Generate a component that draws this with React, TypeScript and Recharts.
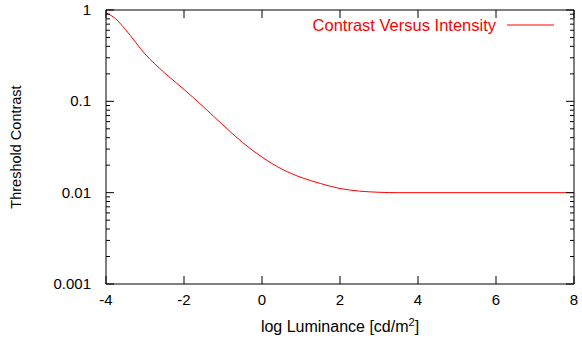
import React from "react";
import { LineChart, Line, XAxis, YAxis } from "recharts";

// log luminance (x) vs threshold contrast (y)
const logLuminance = [-4, -3.75, -3.5, -3, -2.5, -2, -1.5, -1, -0.5, 0, 0.5, 1, 1.5, 2, 2.5, 3, 3.5, 4, 5, 6, 7, 8];
const thresholdContrast = [
  0.93, 0.8, 0.61, 0.33, 0.205, 0.135, 0.087, 0.055, 0.0355, 0.0245, 0.0182, 0.0147, 0.0126, 0.0111, 0.0104, 0.0101,
  0.01, 0.01, 0.01, 0.01, 0.01, 0.01,
];

const xTicks = [-4, -2, 0, 2, 4, 6, 8];
const yMajorTicks = [0.001, 0.01, 0.1, 1];
const yMinorTicks = [
  0.002, 0.003, 0.004, 0.005, 0.006, 0.007, 0.008, 0.009,
  0.02, 0.03, 0.04, 0.05, 0.06, 0.07, 0.08, 0.09,
  0.2, 0.3, 0.4, 0.5, 0.6, 0.7, 0.8, 0.9,
];

const seriesName = "Contrast Versus Intensity";

const data = logLuminance.map((x, i) => ({ x, y: thresholdContrast[i] }));
const yAllTicks = [...yMajorTicks, ...yMinorTicks].sort((a, b) => a - b);

const FONT = '"Liberation Sans", Arial, Helvetica, sans-serif';
const MAJOR = 8;
const MINOR = 4;

const isMajor = (v: number) => yMajorTicks.includes(v);

const LeftTick = (props: any) => {
  const { x, y, payload } = props;
  const major = isMajor(payload.value);
  return (
    <g>
      <line x1={x} x2={x + (major ? MAJOR : MINOR)} y1={y} y2={y} stroke="#000" />
      {major && (
        <text x={x - 15} y={y + 5} textAnchor="end" fontSize={15} fontFamily={FONT} fill="#000">
          {payload.value}
        </text>
      )}
    </g>
  );
};

const RightTick = (props: any) => {
  const { x, y, payload } = props;
  const major = isMajor(payload.value);
  return <line x1={x - (major ? MAJOR : MINOR)} x2={x} y1={y} y2={y} stroke="#000" />;
};

const BottomTick = (props: any) => {
  const { x, y, payload } = props;
  return (
    <g>
      <line x1={x} x2={x} y1={y} y2={y - MAJOR} stroke="#000" />
      <text x={x} y={y + 21} textAnchor="middle" fontSize={15} fontFamily={FONT} fill="#000">
        {payload.value}
      </text>
    </g>
  );
};

const TopTick = (props: any) => {
  const { x, y } = props;
  return <line x1={x} x2={x} y1={y} y2={y + MAJOR} stroke="#000" />;
};

export default function App() {
  return (
    <div style={{ position: "absolute", left: 0, top: 0, width: 582, height: 345, background: "#fff" }}>
      <LineChart width={582} height={345} data={data} margin={{ top: 0, right: 0, bottom: 0, left: 0 }}>
        <XAxis
          dataKey="x"
          type="number"
          domain={[-4, 8]}
          allowDataOverflow
          ticks={xTicks}
          interval={0}
          height={61}
          tickSize={0}
          tickMargin={0}
          tickLine={false}
          axisLine={{ stroke: "#000" }}
          tick={<BottomTick />}
          label={{
            content: ({ viewBox }: any) => (
              <text
                x={viewBox.x + viewBox.width / 2}
                y={viewBox.y + 48}
                textAnchor="middle"
                fontSize={16}
                fontFamily={FONT}
                fill="#000"
              >
                log Luminance [cd/m
                <tspan dy={-6} fontSize={11}>2</tspan>
                <tspan dy={6}>]</tspan>
              </text>
            ),
          }}
        />
        <XAxis
          xAxisId="t"
          orientation="top"
          dataKey="x"
          type="number"
          domain={[-4, 8]}
          allowDataOverflow
          ticks={xTicks}
          interval={0}
          height={10}
          tickSize={0}
          tickMargin={0}
          tickLine={false}
          axisLine={{ stroke: "#000" }}
          tick={<TopTick />}
        />
        <YAxis
          scale="log"
          type="number"
          domain={[0.001, 1]}
          allowDataOverflow
          ticks={yAllTicks}
          interval={0}
          width={106}
          tickSize={0}
          tickMargin={0}
          tickLine={false}
          axisLine={{ stroke: "#000" }}
          tick={<LeftTick />}
          label={{
            content: ({ viewBox }: any) => {
              const cx = 21;
              const cy = viewBox.y + viewBox.height / 2;
              return (
                <text
                  x={cx}
                  y={cy}
                  transform={`rotate(-90 ${cx} ${cy})`}
                  textAnchor="middle"
                  fontSize={14.5}
                  fontFamily={FONT}
                  fill="#000"
                >
                  Threshold Contrast
                </text>
              );
            },
          }}
        />
        <YAxis
          yAxisId="r"
          orientation="right"
          scale="log"
          type="number"
          domain={[0.001, 1]}
          allowDataOverflow
          ticks={yAllTicks}
          interval={0}
          width={8}
          tickSize={0}
          tickMargin={0}
          tickLine={false}
          axisLine={{ stroke: "#000" }}
          tick={<RightTick />}
        />
        <Line
          dataKey="y"
          name={seriesName}
          type="monotone"
          stroke="#ff0000"
          strokeWidth={1}
          dot={false}
          isAnimationActive={false}
        />
      </LineChart>
      <svg width={582} height={345} style={{ position: "absolute", left: 0, top: 0, pointerEvents: "none" }}>
        <text x={496} y={31} textAnchor="end" fontSize={16.5} fontFamily={FONT} fill="#ff0000">
          {seriesName}
        </text>
        <line x1={507} x2={554} y1={25} y2={25} stroke="#ff0000" />
      </svg>
    </div>
  );
}
